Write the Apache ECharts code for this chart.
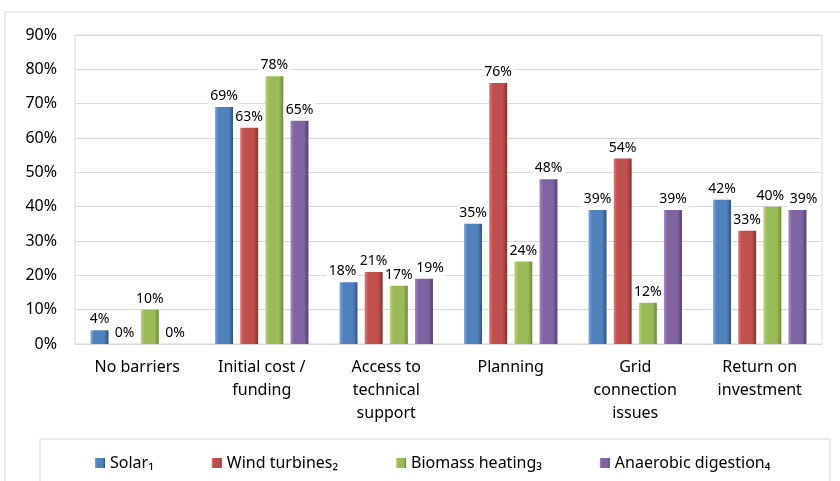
<!DOCTYPE html>
<html>
<head>
<meta charset="utf-8">
<script src="https://cdn.jsdelivr.net/npm/echarts@6/dist/echarts.min.js"></script>
<style>
  html, body { margin: 0; padding: 0; background: #fff; }
  #chart { width: 840px; height: 481px; }
</style>
</head>
<body>
<div id="chart"></div>
<script>
// categories along the x axis
var categories = ['No barriers', 'Initial cost /\nfunding', 'Access to\ntechnical\nsupport', 'Planning', 'Grid\nconnection\nissues', 'Return on\ninvestment']
var seriesNames = ['Solar₁', 'Wind turbines₂', 'Biomass heating₃', 'Anaerobic digestion₄']
// percentage values per technology
var solar = [4, 69, 18, 35, 39, 42]
var wind = [0, 63, 21, 76, 54, 33]
var biomass = [10, 78, 17, 24, 12, 40]
var anaerobic = [0, 65, 19, 48, 39, 39]

var font = "'Noto Sans', sans-serif"

// light / base / dark shades for the bevelled bars
var shades = [
  ['#7fa8dc', '#4f81bd', '#2f5584'],
  ['#dc7b78', '#c0504d', '#8a302e'],
  ['#bcd684', '#9bbb59', '#6c8a35'],
  ['#a58ac5', '#8064a2', '#553f72']
]

function barColor (s) {
  return new echarts.graphic.LinearGradient(0, 0, 1, 0, [
    { offset: 0, color: s[0] },
    { offset: 0.2, color: s[1] },
    { offset: 0.75, color: s[1] },
    { offset: 1, color: s[2] }
  ])
}

// label nudges so crowded labels don't cover each other ("series,category": [dx, dy])
var labelNudge = {
  '0,2': [-6, 0],
  '3,2': [6, 0],
  '2,5': [-2, 0],
  '3,5': [6, 0]
}

var data = [solar, wind, biomass, anaerobic]

var myChart = echarts.init(document.getElementById('chart'))
var options = {
  backgroundColor: '#fff',
  animation: false,
  graphic: [
    {
      type: 'rect',
      shape: { x: 5, y: 12, width: 850, height: 480 },
      style: { fill: 'none', stroke: '#d9d9d9', lineWidth: 1 },
      silent: true
    },
    {
      type: 'rect',
      shape: { x: 40, y: 439, width: 790, height: 60 },
      style: { fill: 'none', stroke: '#d9d9d9', lineWidth: 1 },
      silent: true
    }
  ],
  grid: {
    left: 75,
    right: 18,
    top: 35,
    bottom: 137,
    show: true,
    borderColor: '#d9d9d9',
    borderWidth: 1
  },
  legend: {
    data: seriesNames,
    left: 90,
    top: 450,
    itemWidth: 10,
    itemHeight: 10,
    itemGap: 58,
    icon: 'rect',
    textStyle: { fontFamily: font, fontSize: 16, color: '#000' }
  },
  xAxis: {
    type: 'category',
    data: categories,
    axisLine: { show: true, lineStyle: { color: '#d9d9d9' } },
    axisTick: { show: false },
    axisLabel: {
      fontFamily: font,
      fontSize: 16,
      color: '#000',
      lineHeight: 23,
      margin: 12,
      interval: 0
    }
  },
  yAxis: {
    type: 'value',
    min: 0,
    max: 90,
    interval: 10,
    axisLine: { show: false },
    axisTick: { show: false },
    splitLine: { lineStyle: { color: '#d9d9d9' } },
    axisLabel: {
      formatter: '{value}%',
      fontFamily: font,
      fontSize: 16,
      color: '#000',
      margin: 18
    }
  },
  series: data.map(function (vals, i) {
    return {
      name: seriesNames[i],
      type: 'bar',
      data: vals.map(function (v, j) {
        var nudge = labelNudge[i + ',' + j]
        return nudge ? { value: v, label: { offset: nudge } } : v
      }),
      barGap: '40%',
      barCategoryGap: '25%',
      itemStyle: {
        color: barColor(shades[i])
      },
      label: {
        show: true,
        position: 'top',
        distance: 3,
        formatter: '{c}%',
        fontFamily: font,
        fontSize: 14,
        color: '#000',
        backgroundColor: '#fff',
        padding: [1, 2]
      }
    }
  })
}
// legend icons use the flat base colours
options.color = shades.map(function (s) { return s[1] })
myChart.setOption(options)
</script>
</body>
</html>
